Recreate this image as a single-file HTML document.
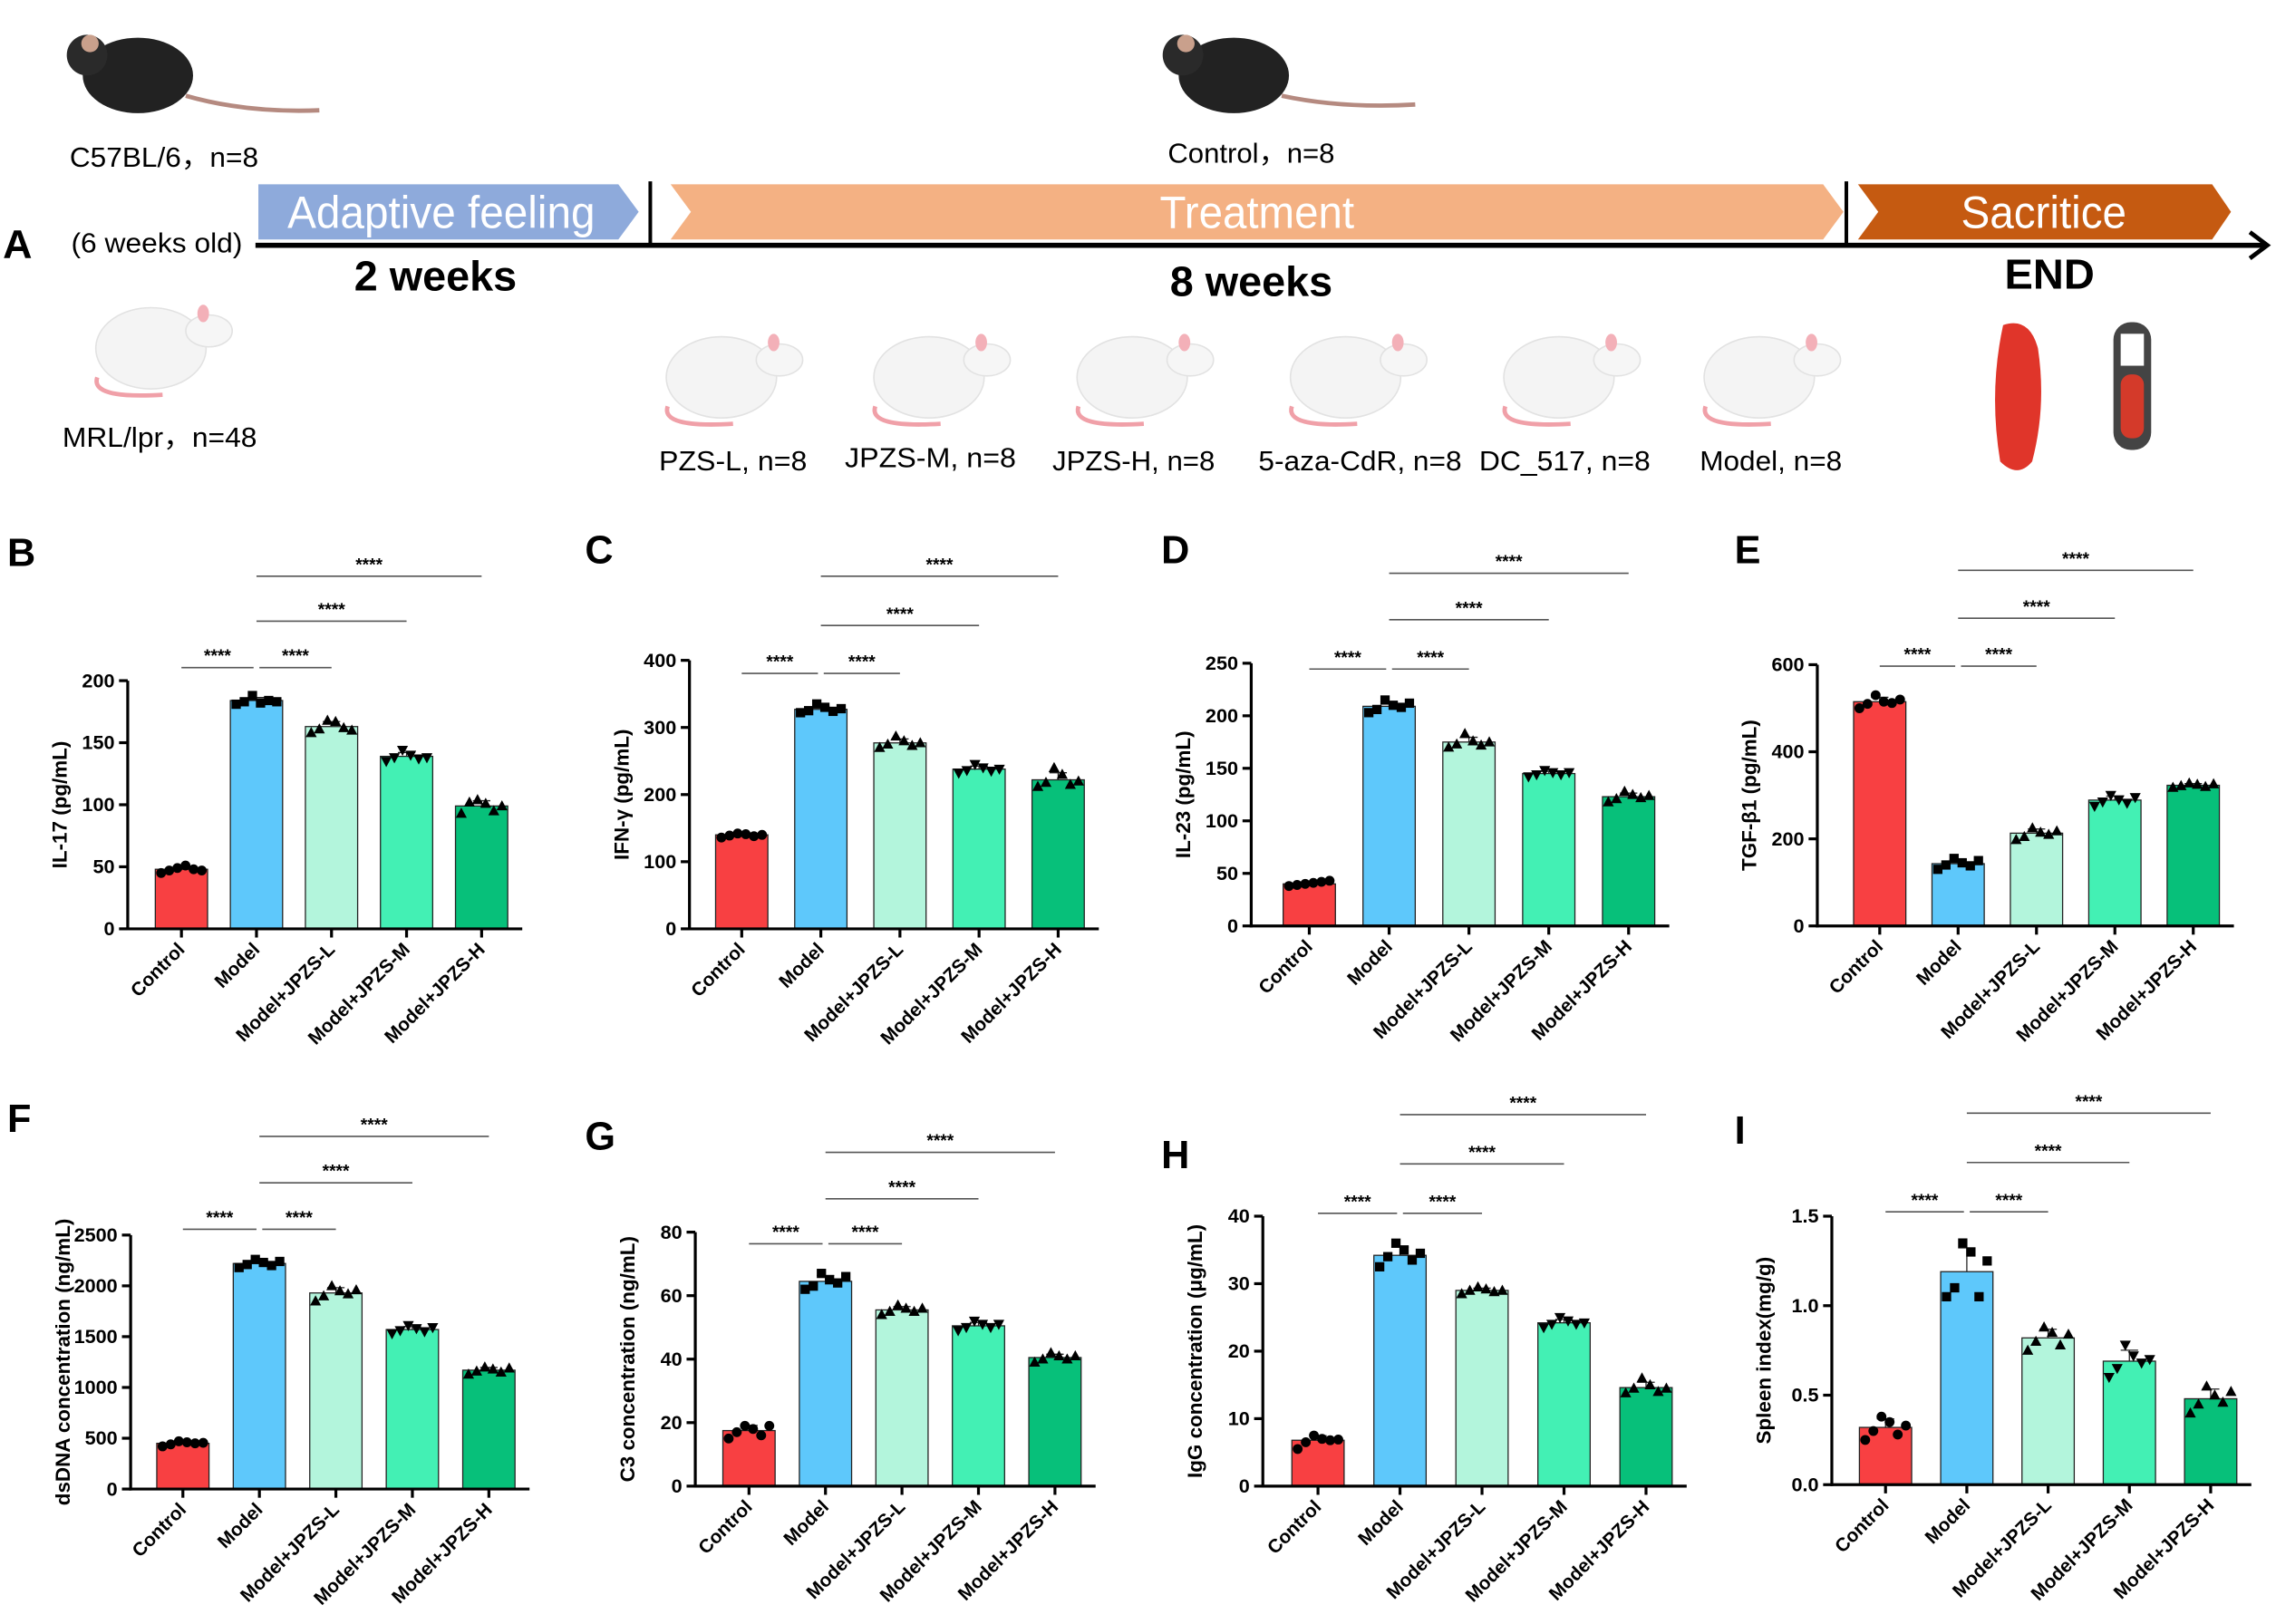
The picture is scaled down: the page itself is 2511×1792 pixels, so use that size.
<!DOCTYPE html>
<html><head><meta charset="utf-8"><style>
html,body{margin:0;padding:0;background:#fff;}
svg{display:block;font-family:"Liberation Sans",Arial,sans-serif;}
</style></head><body>
<svg id="fig" width="2511" height="1792" viewBox="0 0 1568 1119" preserveAspectRatio="none" xmlns="http://www.w3.org/2000/svg">
<g id="panelA">
  <text x="2" y="178" font-size="28" font-weight="bold">A</text>
  <g>
    <ellipse cx="95" cy="52" rx="38" ry="26" fill="#222"/>
    <circle cx="60" cy="38" r="14" fill="#2a2a2a"/>
    <circle cx="62" cy="30" r="6" fill="#c9a08c"/>
    <path d="M128 66 Q170 78 220 76" stroke="#b58a80" stroke-width="3" fill="none"/>
  </g>
  <g>
    <ellipse cx="850" cy="52" rx="38" ry="26" fill="#222"/>
    <circle cx="815" cy="38" r="14" fill="#2a2a2a"/>
    <circle cx="817" cy="30" r="6" fill="#c9a08c"/>
    <path d="M883 66 Q925 75 975 72" stroke="#b58a80" stroke-width="3" fill="none"/>
  </g>
  <g font-size="19" text-anchor="middle">
  <text x="113" y="115" textLength="130" lengthAdjust="spacingAndGlyphs">C57BL/6，n=8</text>
  <text x="862" y="112" textLength="115" lengthAdjust="spacingAndGlyphs">Control，n=8</text>
  <text x="108" y="174" textLength="118" lengthAdjust="spacingAndGlyphs">(6 weeks old)</text>
  <text x="110" y="308" textLength="134" lengthAdjust="spacingAndGlyphs">MRL/lpr，n=48</text>
  <text x="505" y="324" textLength="102" lengthAdjust="spacingAndGlyphs">PZS-L, n=8</text>
  <text x="641" y="322" textLength="118" lengthAdjust="spacingAndGlyphs">JPZS-M, n=8</text>
  <text x="781" y="324" textLength="112" lengthAdjust="spacingAndGlyphs">JPZS-H, n=8</text>
  <text x="937" y="324" textLength="140" lengthAdjust="spacingAndGlyphs">5-aza-CdR, n=8</text>
  <text x="1078" y="324" textLength="118" lengthAdjust="spacingAndGlyphs">DC_517, n=8</text>
  <text x="1220" y="324" textLength="98" lengthAdjust="spacingAndGlyphs">Model, n=8</text>
  </g>
  <polygon points="178,127 426,127 440,146 426,165 178,165" fill="#8eaadb"/>
  <text x="304" y="157" font-size="31" fill="#fff" text-anchor="middle" textLength="212" lengthAdjust="spacingAndGlyphs">Adaptive feeling</text>
  <polygon points="462,127 1256,127 1270,146 1256,165 462,165 476,146" fill="#f4b183"/>
  <text x="866" y="157" font-size="31" fill="#fff" text-anchor="middle" textLength="134" lengthAdjust="spacingAndGlyphs">Treatment</text>
  <polygon points="1280,127 1524,127 1537,146 1524,165 1280,165 1294,146" fill="#c55a11"/>
  <text x="1408" y="157" font-size="31" fill="#fff" text-anchor="middle" textLength="114" lengthAdjust="spacingAndGlyphs">Sacritice</text>
  <line x1="448" y1="125" x2="448" y2="168" stroke="#000" stroke-width="2.5"/>
  <line x1="1272" y1="125" x2="1272" y2="168" stroke="#000" stroke-width="2.5"/>
  <line x1="176" y1="169" x2="1560" y2="169" stroke="#000" stroke-width="3.5"/>
  <polyline points="1550,160 1562,169 1550,178" stroke="#000" stroke-width="3" fill="none"/>
  <text x="300" y="200" font-size="29" font-weight="bold" text-anchor="middle" textLength="112" lengthAdjust="spacingAndGlyphs">2 weeks</text>
  <text x="862" y="204" font-size="29" font-weight="bold" text-anchor="middle" textLength="112" lengthAdjust="spacingAndGlyphs">8 weeks</text>
  <text x="1412" y="199" font-size="29" font-weight="bold" text-anchor="middle" textLength="62" lengthAdjust="spacingAndGlyphs">END</text>
  <g id="rats"></g>
  <path d="M1380 224 Q1398 218 1404 240 Q1410 280 1400 318 Q1390 330 1378 318 Q1370 270 1380 224Z" fill="#e0352a"/>
  <g>
    <rect x="1456" y="222" width="26" height="88" rx="12" fill="#444"/>
    <rect x="1461" y="230" width="16" height="22" fill="#fff"/>
    <rect x="1461" y="258" width="16" height="44" rx="7" fill="#d43a2a"/>
  </g>
</g>
<g id="charts"></g>
</svg>
<script>
// ---- data ----
const categories = ["Control","Model","Model+JPZS-L","Model+JPZS-M","Model+JPZS-H"];
const meansB = [48,184,163,139,99];
const meansC = [140,327,277,238,222];
const meansD = [40,209,175,145,123];
const meansE = [515,143,213,289,323];
const meansF = [450,2220,1930,1570,1170];
const meansG = [17.5,64.5,55.5,50.5,40.5];
const meansH = [6.8,34.2,29,24.2,14.6];
const meansI = [0.32,1.19,0.82,0.69,0.48];
const ptsB = [[45,47,49,51,48,47],[181,183,188,182,184,183],[158,161,168,167,162,160],[135,138,144,140,137,138],[93,102,104,101,95,99]];
const ptsC = [[136,139,142,141,138,140],[322,325,335,330,324,328],[270,275,287,280,273,277],[232,236,245,240,235,238],[212,218,240,230,215,220]];
const ptsD = [[38,39,40,41,42,43],[203,206,215,210,208,212],[170,173,183,176,172,175],[142,144,148,146,144,146],[118,121,128,125,122,124]];
const ptsE = [[500,510,530,515,512,520],[130,140,155,145,138,150],[198,205,225,215,210,218],[275,285,300,290,282,295],[318,322,328,325,320,326]];
const ptsF = [[420,440,470,460,450,455],[2180,2210,2260,2230,2200,2240],[1850,1900,2000,1950,1920,1960],[1530,1560,1610,1580,1550,1590],[1130,1160,1200,1180,1150,1190]];
const ptsG = [[15,17,19,18,16,19],[62,63,67,65,64,66],[54,55,57,56,55,56],[49,50,52,51,50,51],[39,40,42,41,40,41]];
const ptsH = [[5.5,6.5,7.5,7,6.8,6.9],[32.5,34,36,35,33.5,34.5],[28.5,29,29.5,29.2,28.8,29],[23.5,24,25,24.5,24,24.2],[13.8,14.5,16,15,14,14.5]];
const ptsI = [[0.25,0.3,0.38,0.35,0.28,0.33],[1.05,1.1,1.35,1.3,1.05,1.25],[0.75,0.8,0.88,0.85,0.78,0.84],[0.6,0.65,0.78,0.72,0.68,0.7],[0.4,0.45,0.55,0.5,0.46,0.52]];
const ticksB = [0,50,100,150,200];
const ticksC = [0,100,200,300,400];
const ticksD = [0,50,100,150,200,250];
const ticksE = [0,200,400,600];
const ticksF = [0,500,1000,1500,2000,2500];
const ticksG = [0,20,40,60,80];
const ticksH = [0,10,20,30,40];
const ticksI = ["0.0","0.5","1.0","1.5"];
const sigPairs = [[0,1],[1,2],[1,3],[1,4]];
const sigLabels = ["****","****","****","****"];

// ---- layout ----
const colors = ["#f84042","#5ec8fb","#b3f5dc","#43f0b4","#07c07a"];
const markers = ["circle","square","tri","itri","tri"];
const panels = [
 {id:"B",ylabel:"IL-17 (pg/mL)",means:meansB,pts:ptsB,ticks:ticksB,ax:88,y0:640,yt:469,c0:125,dc:51.7,sig:[460,428,397],lx:5,ly:390},
 {id:"C",ylabel:"IFN-γ (pg/mL)",means:meansC,pts:ptsC,ticks:ticksC,ax:475,y0:640,yt:455,c0:511,dc:54.5,sig:[464,431,397],lx:403,ly:388},
 {id:"D",ylabel:"IL-23 (pg/mL)",means:meansD,pts:ptsD,ticks:ticksD,ax:862,y0:638,yt:457,c0:902,dc:55,sig:[461,427,395],lx:800,ly:388},
 {id:"E",ylabel:"TGF-β1 (pg/mL)",means:meansE,pts:ptsE,ticks:ticksE,ax:1252,y0:638,yt:458,c0:1295,dc:54,sig:[459,426,393],lx:1195,ly:388},
 {id:"F",ylabel:"dsDNA concentration (ng/mL)",means:meansF,pts:ptsF,ticks:ticksF,ax:90,y0:1026,yt:851,c0:126,dc:52.7,sig:[847,815,783],lx:5,ly:780},
 {id:"G",ylabel:"C3 concentration (ng/mL)",means:meansG,pts:ptsG,ticks:ticksG,ax:479,y0:1024,yt:849,c0:516,dc:52.7,sig:[857,826,794],lx:403,ly:792},
 {id:"H",ylabel:"IgG concentration (μg/mL)",means:meansH,pts:ptsH,ticks:ticksH,ax:870,y0:1024,yt:838,c0:908,dc:56.5,sig:[836,802,768],lx:800,ly:805},
 {id:"I",ylabel:"Spleen index(mg/g)",means:meansI,pts:ptsI,ticks:ticksI,ax:1262,y0:1023,yt:838,c0:1299,dc:56,sig:[835,801,767],lx:1195,ly:788}
];
const NS="http://www.w3.org/2000/svg";
function mk(tag,attrs,parent){const e=document.createElementNS(NS,tag);for(const k in attrs)e.setAttribute(k,attrs[k]);if(parent)parent.appendChild(e);return e;}

const rats=document.getElementById('rats');
[[112,240],[505,260],[648,260],[788,260],[935,260],[1082,260],[1220,260]].forEach(function(p){
  const g=mk('g',{},rats);
  
  
  mk('path',{d:`M${p[0]-45} ${p[1]+20} Q${p[0]-50} ${p[1]+35} ${p[0]} ${p[1]+32}`,stroke:'#f0a0a8','stroke-width':3,fill:'none'},g);
  mk('ellipse',{cx:p[0]-8,cy:p[1],rx:38,ry:28,fill:'#f4f4f4',stroke:'#e2e2e2'},g);
  mk('ellipse',{cx:p[0]+32,cy:p[1]-12,rx:16,ry:11,fill:'#f6f6f6',stroke:'#e2e2e2'},g);
  mk('ellipse',{cx:p[0]+28,cy:p[1]-24,rx:4,ry:6,fill:'#f3b0b8'},g);
});

const charts=document.getElementById('charts');
panels.forEach(function(P){
  const g=mk('g',{},charts);
  
  
  const nt=P.ticks.map(Number);
  const ymax=nt[nt.length-1];
  const y=v=>P.y0-(v/ymax)*(P.y0-P.yt);
  const x=i=>P.c0+i*P.dc;
  const bw=36;
  const lab=mk('text',{x:P.lx,y:P.ly,'font-size':27,'font-weight':'bold'},g);
  lab.textContent=P.id;
  
  
  P.means.forEach(function(m,i){
    const r=mk('rect',{x:x(i)-bw/2,y:y(m),width:bw,height:P.y0-y(m),fill:colors[i],stroke:'#222','stroke-width':0.8},g);
    
    
    const pts=P.pts[i];const mean=pts.reduce((a,b)=>a+b,0)/pts.length;
    const sd=Math.sqrt(pts.reduce((a,b)=>a+(b-mean)*(b-mean),0)/(pts.length-1));
    mk('line',{x1:x(i),x2:x(i),y1:y(m),y2:y(m+sd),stroke:'#222','stroke-width':0.8},g);
    mk('line',{x1:x(i)-6,x2:x(i)+6,y1:y(m+sd),y2:y(m+sd),stroke:'#222','stroke-width':0.8},g);
    pts.forEach(function(v,j){
      const px=x(i)-14+j*5.6,py=y(v);let e;
      if(markers[i]==='circle')e=mk('circle',{cx:px,cy:py,r:3.4,fill:'#000'},g);
      else if(markers[i]==='square')e=mk('rect',{x:px-3.2,y:py-3.2,width:6.4,height:6.4,fill:'#000'},g);
      else if(markers[i]==='tri')e=mk('polygon',{points:`${px},${py-4} ${px-3.8},${py+3} ${px+3.8},${py+3}`,fill:'#000'},g);
      else e=mk('polygon',{points:`${px},${py+4} ${px-3.8},${py-3} ${px+3.8},${py-3}`,fill:'#000'},g);
      
      
    });
  });
  const ya=mk('line',{x1:P.ax,x2:P.ax,y1:P.y0+1,y2:P.yt,stroke:'#000','stroke-width':2},g);
  
  
  const xa=mk('line',{x1:P.ax-1,x2:x(4)+28,y1:P.y0,y2:P.y0,stroke:'#000','stroke-width':2},g);
  
  
  P.ticks.forEach(function(t){
    const v=Number(t);
    mk('line',{x1:P.ax-6,x2:P.ax,y1:y(v),y2:y(v),stroke:'#000','stroke-width':2},g);
    const tl=mk('text',{x:P.ax-9,y:y(v)+4.5,'font-size':13.5,'font-weight':'bold','text-anchor':'end'},g);
    tl.textContent=String(t);
    
    
  });
  categories.forEach(function(c,i){
    mk('line',{x1:x(i),x2:x(i),y1:P.y0,y2:P.y0+6,stroke:'#000','stroke-width':2},g);
    const tl=mk('text',{x:x(i)+3,y:P.y0+15,'font-size':13,'font-weight':'bold','text-anchor':'end',transform:`rotate(-45 ${x(i)+3} ${P.y0+15})`},g);
    tl.textContent=c;
    
    
  });
  const yl=mk('text',{x:0,y:0,'font-size':14,'font-weight':'bold','text-anchor':'middle',transform:`translate(${P.ax-42},${(P.y0+P.yt)/2}) rotate(-90)`},g);
  yl.textContent=P.ylabel;
  
  
  sigPairs.forEach(function(pr,k){
    const ly=k<2?P.sig[0]:P.sig[k-1];
    const x1=x(pr[0])+(k===1?2:0),x2=x(pr[1])-(k===0?2:0);
    const l=mk('line',{x1:x1,x2:x2,y1:ly,y2:ly,stroke:'#555','stroke-width':1},g);
    
    
    const st=mk('text',{x:(x1+x2)/2,y:ly-4,'font-size':12,'font-weight':'bold','text-anchor':'middle'},g);
    st.textContent=sigLabels[k];
    
    
  });
});
</script>
</body></html>
